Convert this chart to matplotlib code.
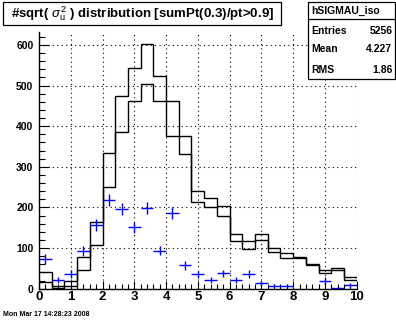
import numpy as np
import matplotlib
matplotlib.use("Agg")
import matplotlib.pyplot as plt
from matplotlib.patches import Rectangle
from matplotlib.ticker import MultipleLocator

plt.rcParams['font.family'] = ['Liberation Sans', 'DejaVu Sans']
plt.rcParams['mathtext.fontset'] = 'custom'
plt.rcParams['mathtext.rm'] = 'Liberation Sans'
plt.rcParams['mathtext.it'] = 'Liberation Sans:italic'

# ---- data ----
bin_edges = np.linspace(0.0, 10.0, 26)
hist_upper = [40, 6, 18, 77, 163, 333, 474, 543, 602, 523, 462, 375, 241,
              223, 203, 134, 117, 134, 99, 87, 77, 60, 46, 50, 28]
hist_lower = [17, 1, 7, 46, 107, 250, 385, 462, 504, 462, 375, 331, 213,
              200, 178, 117, 97, 119, 90, 76, 75, 58, 38, 46, 22]
blue_counts = [73, 22, 37, 92, 157, 219, 196, 151, 198, 93, 186, 58, 35,
               21, 38, 21, 36, 13, 7, 7, 0, 0, 20, 1, 8]
blue_errors = [13, 8, 10, 12, 14, 15, 15, 14, 15, 11, 15, 11, 9,
               8, 9, 8, 9, 7, 4, 4, 0, 0, 8, 2, 5]

title_text = r"#sqrt( $\sigma_{\rm u}^{2}$ ) distribution [sumPt(0.3)/pt>0.9]"
stats_name = "hSIGMAU_iso"
stats_labels = ["Entries", "Mean", "RMS"]
stats_values = ["5256", "4.227", "1.86"]
date_text = "Mon Mar 17 14:28:23 2008"

W, H = 396, 322
fig = plt.figure(figsize=(W / 100, H / 100), dpi=100)
ax = fig.add_axes([39 / W, 1 - 288.7 / H, (356.7 - 39) / W, (288.7 - 32) / H])

ax.stairs(hist_upper, bin_edges, baseline=None, color='black', lw=1.0)
ax.stairs(hist_lower, bin_edges, baseline=None, color='black', lw=1.0)

centers = 0.5 * (bin_edges[:-1] + bin_edges[1:])
halfw = 0.5 * np.diff(bin_edges)
bc = np.array(blue_counts, dtype=float)
be = np.array(blue_errors, dtype=float)
m = bc > 0
ax.errorbar(centers[m], bc[m], xerr=halfw[m], yerr=be[m], fmt='none',
            ecolor='#0000ff', elinewidth=1.0, capsize=0)

ax.set_xlim(0, 10)
ax.set_ylim(0, 632)
ax.xaxis.set_major_locator(MultipleLocator(1))
ax.xaxis.set_minor_locator(MultipleLocator(0.2))
ax.yaxis.set_major_locator(MultipleLocator(100))
ax.yaxis.set_minor_locator(MultipleLocator(20))
ax.grid(True, which='major', color='black', linestyle=(0, (1, 3)), lw=0.8)
for s in ['top', 'right']:
    ax.spines[s].set_visible(False)
for s in ['left', 'bottom']:
    ax.spines[s].set_linewidth(1.0)
ax.tick_params(axis='both', which='both', direction='in', width=0.8)
ax.tick_params(axis='x', which='major', length=6, labelsize=9.5, pad=2)
ax.tick_params(axis='x', which='minor', length=3.5)
ax.tick_params(axis='y', which='major', length=7, labelsize=7.5, pad=4)
ax.tick_params(axis='y', which='minor', length=4)
for lab in ax.get_xticklabels() + ax.get_yticklabels():
    lab.set_fontweight('bold')

# title box
fig.patches.append(Rectangle((3.3 / W, 1 - 25 / H), (281 - 3.3) / W, (25 - 1.7) / H,
                             transform=fig.transFigure, fill=True, facecolor='white',
                             edgecolor='black', lw=0.9))
fig.text(143 / W, 1 - 13.5 / H, title_text, ha='center', va='center',
         fontsize=9.5, fontweight='bold')

# stats box
x0, x1 = 307.5, 395.0
y0, y1 = 1.7, 79.0
fig.patches.append(Rectangle((x0 / W, 1 - y1 / H), (x1 - x0) / W, (y1 - y0) / H,
                             transform=fig.transFigure, fill=True, facecolor='white',
                             edgecolor='black', lw=0.9))
fig.add_artist(plt.Line2D([x0 / W, x1 / W], [1 - 18.5 / H, 1 - 18.5 / H],
                          transform=fig.transFigure, color='black', lw=0.9))
fig.text(311 / W, 1 - 10.5 / H, stats_name, ha='left', va='center',
         fontsize=7.5, fontweight='bold')
row_y = [31, 49, 70]
for lab, val, yy in zip(stats_labels, stats_values, row_y):
    fig.text(311 / W, 1 - yy / H, lab, ha='left', va='center', fontsize=7.5, fontweight='bold')
    fig.text(392.5 / W, 1 - yy / H, val, ha='right', va='center', fontsize=7.5, fontweight='bold')

fig.text(3 / W, 1 - 314 / H, date_text, ha='left', va='center', fontsize=5, fontweight='bold')

fig.savefig("out.png", dpi=100)
